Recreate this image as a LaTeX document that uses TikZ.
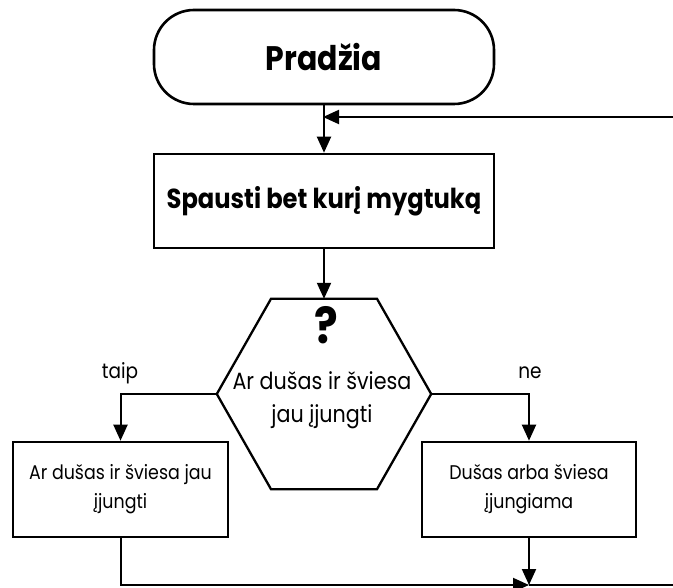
\documentclass[tikz,border=0pt]{standalone}
\usepackage{fontspec}
\setmainfont{Poppins}[FakeStretch=0.88]
\usetikzlibrary{arrows.meta,calc}
\begin{document}
\begin{tikzpicture}[x=1pt,y=-1pt,
  box/.style={draw, line width=2.6pt, inner sep=0pt, align=center},
  conn/.style={line width=2pt, -{Triangle[length=16pt,width=14pt]}},
  ln/.style={line width=2pt},
  lbl/.style={font=\fontsize{21}{24}\selectfont, inner sep=0pt}]
\useasboundingbox (0,0) rectangle (673,588);
\node[box, rounded corners=40pt, minimum width=340pt, minimum height=94pt, font=\bfseries\fontsize{34}{40}\selectfont] (start) at (324,57) {Pradžia};
\node[box, minimum width=340pt, minimum height=94pt, font=\bfseries\fontsize{27.5}{32}\selectfont] (proc) at (324,201) {Spausti bet kurį mygtuką};
\node[minimum width=214pt, minimum height=190pt, inner sep=0pt] (hex) at (324,394) {};
\draw[line width=2.3pt, line join=miter] ($(hex.north)+(-53,0)$) -- ($(hex.north)+(53,0)$) -- (hex.east) -- ($(hex.south)+(53,0)$) -- ($(hex.south)+(-53,0)$) -- (hex.west) -- cycle;
\node[font=\bfseries\fontsize{50}{50}\selectfont, inner sep=0pt] (q) at (326,325) {?};
\node[align=center, font=\fontsize{23.5}{33}\selectfont, inner sep=0pt] (qt) at (322,400) {Ar dušas ir šviesa\\jau įjungti};
\node[box, minimum width=215pt, minimum height=95pt, font=\fontsize{19.8}{29}\selectfont] (yes) at (120.5,489.5) {Ar dušas ir šviesa jau\\įjungti};
\node[box, minimum width=214pt, minimum height=95pt, font=\fontsize{19.8}{29}\selectfont] (no) at (529,489.5) {Dušas arba šviesa\\įjungiama};
\node[lbl] (taip) at (120,373) {taip};
\node[lbl] (ne) at (530,373) {ne};
\coordinate (fbR) at (673,117);
\coordinate (bot) at (673,585);
\coordinate (join) at (no.south |- bot);
\draw[conn] (start) -- (proc);
\draw[conn, shorten >=-1pt] (fbR) -- (start.south |- fbR);
\draw[conn] (proc) -- (hex.north);
\draw[conn] (hex.west) -| (yes.north);
\draw[conn] (hex.east) -| (no.north);
\draw[conn] (yes.south) |- (join);
\draw[conn] (no.south) -- (join);
\draw[ln] (join) -- (bot);
\end{tikzpicture}
\end{document}
